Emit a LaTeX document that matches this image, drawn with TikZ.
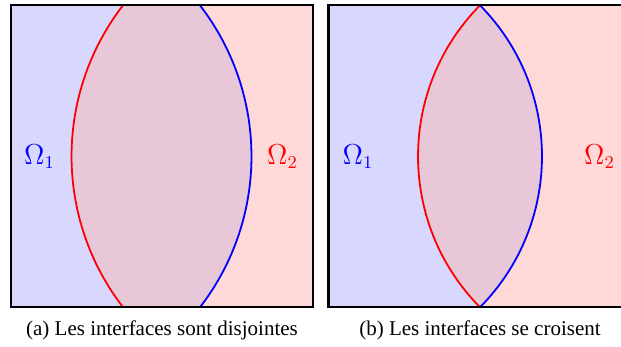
\documentclass[tikz,border=0pt]{standalone}
\usepackage{fontspec}
\setmainfont{Liberation Serif}
\usepackage{amsmath}
\definecolor{omegaone}{RGB}{216,216,255}
\definecolor{omegatwo}{RGB}{255,216,216}
\definecolor{overlap}{RGB}{232,200,216}

\begin{document}
\begin{tikzpicture}[
  x=0.5pt,
  y=0.5pt,
  frame/.style={draw=black,line width=1.1pt},
  ifred/.style={draw=red,line width=0.9pt},
  ifblue/.style={draw=blue,line width=0.9pt},
  lab/.style={font=\fontsize{13.5}{15}\selectfont},
  captxt/.style={font=\fontsize{10.5}{12}\selectfont,anchor=base}
]
\useasboundingbox (0,0) rectangle (621,347);
\clip (0,0) rectangle (621,347);
% panels: left, right, red top, blue top, radius, half angle, label x, label x, caption x, id
\foreach \L/\Rt/\xr/\xb/\R/\a/\xo/\xt/\xc/\i/\txt in {
  11/313/123/200/247.1/37.66/39.5/282.5/162/a/{(a) Les interfaces sont disjointes},
  328.5/630/480/480/214.9/44.64/358/599.5/480/b/{(b) Les interfaces se croisent}} {
  \fill[omegaone] (\xb,39.7) arc[start angle=-\a,end angle=\a,radius=\R] -- (\L,341.7) -- (\L,39.7) -- cycle;
  \fill[omegatwo] (\xr,341.7) arc[start angle=180-\a,end angle=180+\a,radius=\R] -- (\Rt,39.7) -- (\Rt,341.7) -- cycle;
  \begin{scope}
    \clip (\xr,341.7) arc[start angle=180-\a,end angle=180+\a,radius=\R] -- (\Rt,39.7) -- (\Rt,341.7) -- cycle;
    \fill[overlap] (\xb,39.7) arc[start angle=-\a,end angle=\a,radius=\R] -- (\L,341.7) -- (\L,39.7) -- cycle;
  \end{scope}
  \draw[ifred] (\xr,341.7) arc[start angle=180-\a,end angle=180+\a,radius=\R];
  \draw[ifblue] (\xb,39.7) arc[start angle=-\a,end angle=\a,radius=\R];
  \draw[frame] (\L,39.7) rectangle (\Rt,341.7);
  \node[lab,text=blue] (om1-\i) at (\xo,190) {$\Omega_1$};
  \node[lab,text=red] (om2-\i) at (\xt,190) {$\Omega_2$};
  \node[captxt] (cap-\i) at (\xc,11.5) {\txt};
}
\end{tikzpicture}
\end{document}
